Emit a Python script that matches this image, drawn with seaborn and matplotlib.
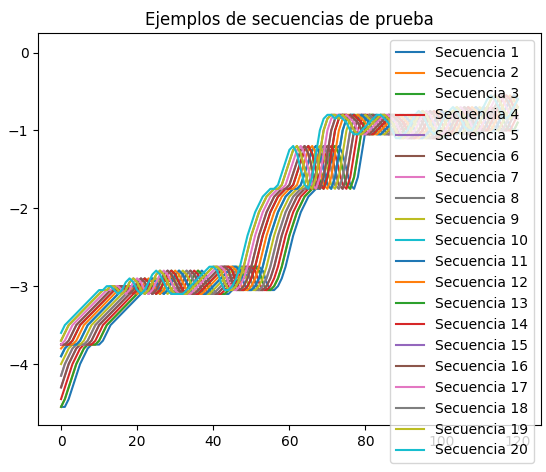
import matplotlib
matplotlib.use("Agg")
import matplotlib.pyplot as plt
import seaborn as sns
import pandas as pd

# underlying series; each "Secuencia" is a sliding window over it
base = [
    -4.55, -4.55, -4.45, -4.3, -4.15, -4.0, -3.9, -3.8, -3.75, -3.75,
    -3.75, -3.7, -3.6, -3.5, -3.45, -3.4, -3.35,
    -3.3, -3.25, -3.2, -3.15, -3.1, -3.05, -3.05, -3.0, -3.0, -3.05,
    -3.1, -3.05, -2.95, -2.9, -2.95, -3.05, -3.1, -3.05, -2.95, -2.85, -2.8,
    -2.85, -2.95, -3.05, -3.1, -3.1, -3.1, -3.1, -3.05, -3.0, -2.95,
    -2.9, -2.85, -2.8, -2.75, -2.75, -2.8, -2.95, -3.05, -3.05, -3.0,
    -2.9, -2.75, -2.55, -2.35, -2.2, -2.05, -1.95, -1.85, -1.8, -1.75, -1.75, -1.7,
    -1.55, -1.4, -1.25, -1.2, -1.3, -1.5, -1.7, -1.75, -1.6, -1.3,
    -1.0, -0.85, -0.8, -0.8, -0.85, -0.8, -0.85, -0.9, -1.0, -1.05, -1.05, -1.0, -0.95,
    -0.9, -0.85, -0.8, -0.8, -0.85, -0.9, -1.0, -1.1, -1.1, -1.05, -1.0, -0.9,
    -0.8, -0.75, -0.8, -0.9, -1.0, -1.05, -1.0, -0.9, -0.8, -0.75, -0.7, -0.75,
    -0.85, -0.95, -1.0, -1.0, -0.9, -0.8, -0.7, -0.6, -0.55, -0.6, -0.7, -0.8,
    -0.85, -0.8, -0.7, -0.6,
]
offsets = [0, 1, 1, 2, 3, 3, 4, 4, 5, 6, 6, 7, 8, 8, 9, 9, 10, 11, 11, 12]
seq_len = 121
names = [f"Secuencia {i + 1}" for i in range(20)]

rows = []
for name, off in zip(names, offsets):
    for t in range(seq_len):
        rows.append({"t": t, "valor": base[off + t], "serie": name})
df = pd.DataFrame(rows)

fig, ax = plt.subplots(figsize=(5.46, 4.72), dpi=100)
palette = sns.color_palette("tab10", 10) * 2
sns.lineplot(data=df, x="t", y="valor", hue="serie", palette=palette, ax=ax)
ax.set_title("Ejemplos de secuencias de prueba")
ax.set_xlabel("")
ax.set_ylabel("")
ax.set_ylim(-4.78, 0.25)
ax.legend(loc="upper right")
fig.subplots_adjust(left=0.07, right=0.99, top=0.93, bottom=0.1)
fig.savefig("out.png")
